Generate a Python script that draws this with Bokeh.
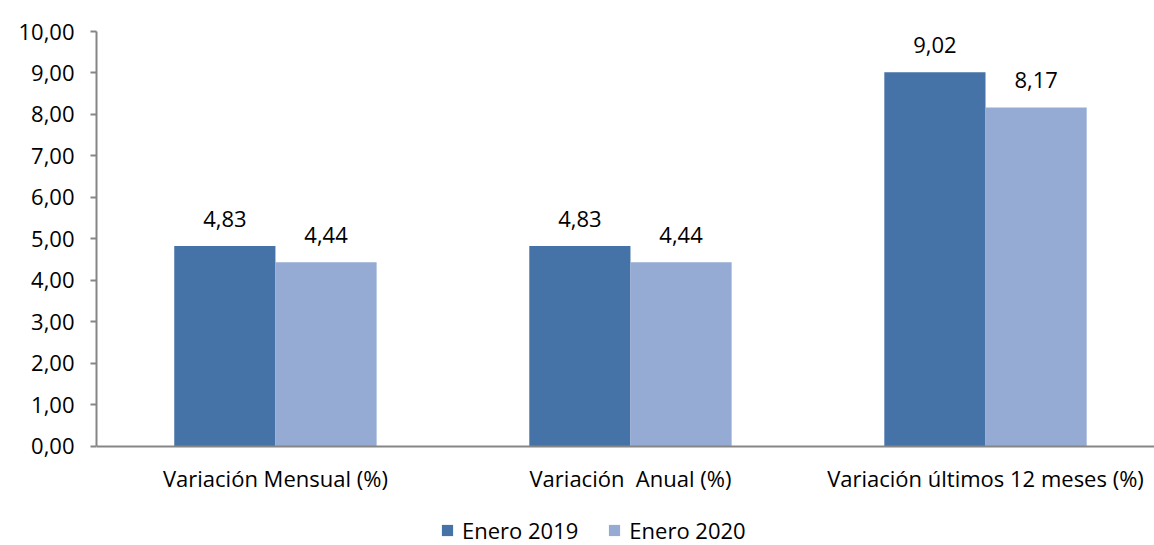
from bokeh.plotting import figure
from bokeh.models import ColumnDataSource, FixedTicker, Range1d, Legend, LegendItem
from bokeh.transform import dodge
from bokeh.core.properties import value
from bokeh.embed import file_html
from bokeh.resources import INLINE

categories = ["Variación Mensual (%)", "Variación  Anual (%)", "Variación últimos 12 meses (%)"]
enero_2019 = [4.83, 4.83, 9.02]
enero_2020 = [4.44, 4.44, 8.17]
series_names = ["Enero 2019", "Enero 2020"]
y_ticks = [0, 1, 2, 3, 4, 5, 6, 7, 8, 9, 10]
y_tick_labels = ["0,00", "1,00", "2,00", "3,00", "4,00", "5,00", "6,00", "7,00", "8,00", "9,00", "10,00"]

def fmt(v):
    return f"{v:.2f}".replace(".", ",")

xs = list(range(len(categories)))
src = ColumnDataSource(dict(
    x=xs, a=enero_2019, b=enero_2020,
    la=[fmt(v) for v in enero_2019], lb=[fmt(v) for v in enero_2020],
))

FONT = "Open Sans"
FS = "22px"
C1 = "#4572A7"
C2 = "#95ABD3"

# frame spans from y=10 (top) down to the canvas bottom; the x axis sits at y=0
p = figure(frame_width=1058, frame_height=514,
           output_backend="svg", toolbar_location=None,
           x_range=Range1d(-0.504, 2.476), y_range=Range1d(-2.386, 10),
           min_border_left=96, min_border_top=31, min_border_right=0, min_border_bottom=0)
p.grid.visible = False
p.outline_line_color = None
p.background_fill_color = "white"
p.border_fill_color = "white"

bw = 0.285
r1 = p.vbar(x=dodge("x", -bw / 2, range=p.x_range), top="a", width=bw, source=src,
            fill_color=C1, line_color=None)
r2 = p.vbar(x=dodge("x", bw / 2, range=p.x_range), top="b", width=bw, source=src,
            fill_color=C2, line_color=None)

p.text(x=dodge("x", -bw / 2, range=p.x_range), y="a", text="la", source=src,
       text_align="center", text_baseline="middle", y_offset=-27,
       text_font=value(FONT), text_font_size=FS, text_color="black")
p.text(x=dodge("x", bw / 2, range=p.x_range), y="b", text="lb", source=src,
       text_align="center", text_baseline="middle", y_offset=-27,
       text_font=value(FONT), text_font_size=FS, text_color="black")

# Y axis
ya = p.yaxis[0]
ya.ticker = FixedTicker(ticks=y_ticks)
ya.bounds = (0, 10)
ya.major_label_overrides = {t: l for t, l in zip(y_ticks, y_tick_labels)}
ya.axis_line_color = "#868686"
ya.axis_line_width = 2
ya.major_tick_line_color = "#868686"
ya.major_tick_line_width = 2
ya.major_tick_out = 6
ya.major_tick_in = 0
ya.minor_tick_line_color = None
ya.major_label_text_font = FONT
ya.major_label_text_font_size = FS
ya.major_label_text_color = "black"
ya.major_label_standoff = 16

# X axis, pinned at y = 0
xa = p.xaxis[0]
xa.fixed_location = 0
xa.ticker = FixedTicker(ticks=xs)
xa.major_label_overrides = {i: c.replace("  ", " \u00a0") for i, c in zip(xs, categories)}
xa.axis_line_color = "#868686"
xa.axis_line_width = 2
xa.major_tick_line_color = None
xa.minor_tick_line_color = None
xa.major_label_text_font = FONT
xa.major_label_text_font_size = FS
xa.major_label_text_color = "black"
xa.major_label_standoff = 11

legend = Legend(items=[LegendItem(label=series_names[0], renderers=[r1]),
                       LegendItem(label=series_names[1], renderers=[r2])],
                orientation="horizontal", location=(344, 0),
                label_text_font=FONT, label_text_font_size=FS, label_text_color="black",
                glyph_width=14, glyph_height=14, spacing=29, label_standoff=8,
                border_line_color=None, background_fill_alpha=0,
                margin=0, padding=0)
p.add_layout(legend, "center")

open("out.html", "w").write(file_html(p, INLINE))
